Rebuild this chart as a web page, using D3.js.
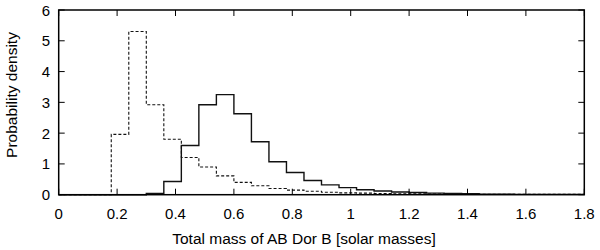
<!DOCTYPE html>
<html><head><meta charset="utf-8">
<script src="https://cdn.jsdelivr.net/npm/d3@7"></script>
<style>body{margin:0;background:#fff}svg{display:block}text{font-family:"Liberation Sans",Arial,sans-serif;fill:#000}</style>
</head><body><svg id="c" width="600" height="250"></svg>
<script>
const binStart = 0, binWidth = 0.06;
const solidValues = [0,0,0,0,0,0.04,0.43,1.60,2.92,3.25,2.63,1.72,1.07,0.72,0.46,0.32,0.23,0.16,0.12,0.09,0.07,0.05,0.04,0.03,0.02,0.02,0.01,0.01,0.01,0.01];
const dashedValues = [0,0,0,1.96,5.30,2.92,1.80,1.21,0.90,0.61,0.40,0.29,0.20,0.15,0.11,0.08,0.06,0.05,0.04,0.03,0.03,0.02,0.02,0.01,0.01,0.01,0.01,0.01,0.01,0.01];
const xTicks = [0,0.2,0.4,0.6,0.8,1,1.2,1.4,1.6,1.8];
const yTicks = [0,1,2,3,4,5,6];
const xLabel = "Total mass of AB Dor B [solar masses]";
const yLabel = "Probability density";

const svg = d3.select("#c");
const m = {l:58.7, r:584.3, t:10, b:194.7};
const x = d3.scaleLinear().domain([0,1.8]).range([m.l,m.r]);
const y = d3.scaleLinear().domain([0,6]).range([m.b,m.t]);

function stepPts(vals){
  const pts = vals.map((v,i)=>[binStart+i*binWidth, v]);
  pts.push([binStart+vals.length*binWidth, vals[vals.length-1]]);
  return pts;
}
const line = d3.line().x(d=>x(d[0])).y(d=>y(d[1])).curve(d3.curveStepAfter);

svg.append("path").attr("d", line(stepPts(dashedValues))).attr("fill","none")
  .attr("stroke","#111").attr("stroke-width",1.1).attr("stroke-dasharray","3,2");
svg.append("path").attr("d", line(stepPts(solidValues))).attr("fill","none")
  .attr("stroke","#111").attr("stroke-width",1.4);

// ticks (inward, mirrored)
const tl = 6;
const g = svg.append("g").attr("stroke","#000").attr("stroke-width",1);
xTicks.forEach(t=>{
  g.append("line").attr("x1",x(t)).attr("x2",x(t)).attr("y1",m.b).attr("y2",m.b-tl);
  g.append("line").attr("x1",x(t)).attr("x2",x(t)).attr("y1",m.t).attr("y2",m.t+tl);
});
yTicks.forEach(t=>{
  g.append("line").attr("x1",m.l).attr("x2",m.l+tl).attr("y1",y(t)).attr("y2",y(t));
  g.append("line").attr("x1",m.r).attr("x2",m.r-tl).attr("y1",y(t)).attr("y2",y(t));
});
svg.append("rect").attr("x",m.l).attr("y",m.t).attr("width",m.r-m.l).attr("height",m.b-m.t)
  .attr("fill","none").attr("stroke","#000").attr("stroke-width",1.5);

const fs = 15, fl = 15.5;
svg.append("g").selectAll("text").data(xTicks).join("text")
  .attr("x",d=>x(d)).attr("y",219).attr("text-anchor","middle").attr("font-size",fs)
  .text(d=>String(d));
svg.append("g").selectAll("text").data(yTicks).join("text")
  .attr("x",50).attr("y",d=>y(d)+5.5).attr("text-anchor","end").attr("font-size",fs)
  .text(d=>String(d));
svg.append("text").attr("x",304).attr("y",244).attr("text-anchor","middle")
  .attr("font-size",fl).text(xLabel);
svg.append("text").attr("transform",`translate(17,95) rotate(-90)`)
  .attr("text-anchor","middle").attr("font-size",fl).text(yLabel);
</script></body></html>
